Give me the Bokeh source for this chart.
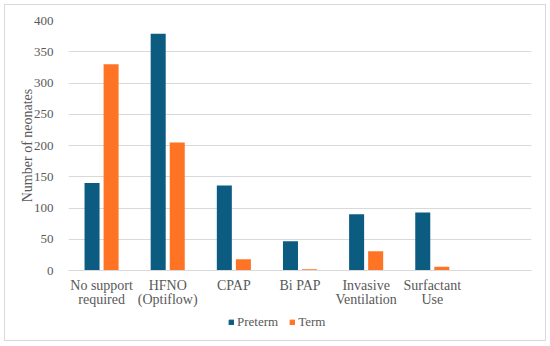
from bokeh.plotting import figure
from bokeh.layouts import column
from bokeh.models import ColumnDataSource, FactorRange, Range1d, Legend, LegendItem, FixedTicker
from bokeh.transform import dodge
from bokeh.embed import file_html
from bokeh.resources import INLINE

categories = ["No support\nrequired", "HFNO\n(Optiflow)", "CPAP", "Bi PAP",
              "Invasive\nVentilation", "Surfactant\nUse", " "]
preterm = [140, 379, 136, 47, 90, 93, None]
term = [330, 205, 18, 2, 31, 6, None]
y_ticks = [0, 50, 100, 150, 200, 250, 300, 350, 400]
series = ["Preterm", "Term"]
colors = ["#0b5c80", "#ff7324"]

FONT = "Liberation Serif"
TXT = "#595959"
GRID = "#d9d9d9"

src = ColumnDataSource(dict(cat=categories,
                            preterm=[v if v is not None else float("nan") for v in preterm],
                            term=[v if v is not None else float("nan") for v in term]))

p = figure(x_range=FactorRange(factors=categories, range_padding=0),
           y_range=Range1d(0, 400),
           width=540, height=304, output_backend="svg", toolbar_location=None,
           min_border_left=63, min_border_right=14, min_border_top=15, min_border_bottom=39)
p.outline_line_color = None
p.background_fill_color = "white"
p.border_fill_color = "white"

bars_kw = dict(width=0.227, source=src, line_color=None)
p.vbar(x=dodge("cat", -0.144, range=p.x_range), top="preterm", fill_color=colors[0], **bars_kw)
p.vbar(x=dodge("cat", 0.144, range=p.x_range), top="term", fill_color=colors[1], **bars_kw)

p.xgrid.grid_line_color = None
p.ygrid.grid_line_color = GRID
p.ygrid.grid_line_width = 1
p.yaxis.ticker = FixedTicker(ticks=y_ticks)

p.yaxis.axis_line_color = None
p.yaxis.major_tick_line_color = None
p.yaxis.minor_tick_line_color = None
p.yaxis.major_label_standoff = 9
p.yaxis.major_label_text_font = FONT
p.yaxis.major_label_text_font_size = "13px"
p.yaxis.major_label_text_color = TXT
p.yaxis.axis_label = "Number of neonates"
p.yaxis.axis_label_text_font = FONT
p.yaxis.axis_label_text_font_size = "14px"
p.yaxis.axis_label_text_font_style = "normal"
p.yaxis.axis_label_text_color = TXT
p.yaxis.axis_label_standoff = -4

p.xaxis.axis_line_color = GRID
p.xaxis.major_tick_line_color = None
p.xaxis.minor_tick_line_color = None
p.xaxis.major_label_standoff = 1
p.xaxis.major_label_text_font = FONT
p.xaxis.major_label_text_font_size = "14px"
p.xaxis.major_label_text_color = TXT
p.xaxis.major_label_text_line_height = 0.95

# legend strip underneath (same bars, scaled out of view; only their legend shows)
p2 = figure(width=540, height=31, output_backend="svg", toolbar_location=None,
            x_range=p.x_range, y_range=Range1d(10000, 10001),
            x_axis_location=None, y_axis_location=None, min_border=0)
p2.outline_line_color = None
p2.grid.visible = False
p2.border_fill_color = "white"
p2.background_fill_color = "white"
lr = [p2.vbar(x="cat", top=col, source=src, width=0.2, fill_color=c, line_color=c)
      for col, c in zip(["preterm", "term"], colors)]
legend = Legend(items=[LegendItem(label=s, renderers=[r]) for s, r in zip(series, lr)],
                location=(160, 10), orientation="horizontal",
                border_line_color=None, background_fill_alpha=0,
                padding=0, spacing=11, label_standoff=3, margin=0,
                glyph_width=6, glyph_height=6,
                label_text_font=FONT, label_text_font_size="13px",
                label_text_color=TXT, label_height=14)
p2.add_layout(legend, "center")

layout = column(p, p2, spacing=0)
layout.styles = {"outline": "1px solid #d9d9d9", "margin-left": "5px", "margin-top": "5px"}

open("out.html", "w").write(file_html(layout, INLINE))
